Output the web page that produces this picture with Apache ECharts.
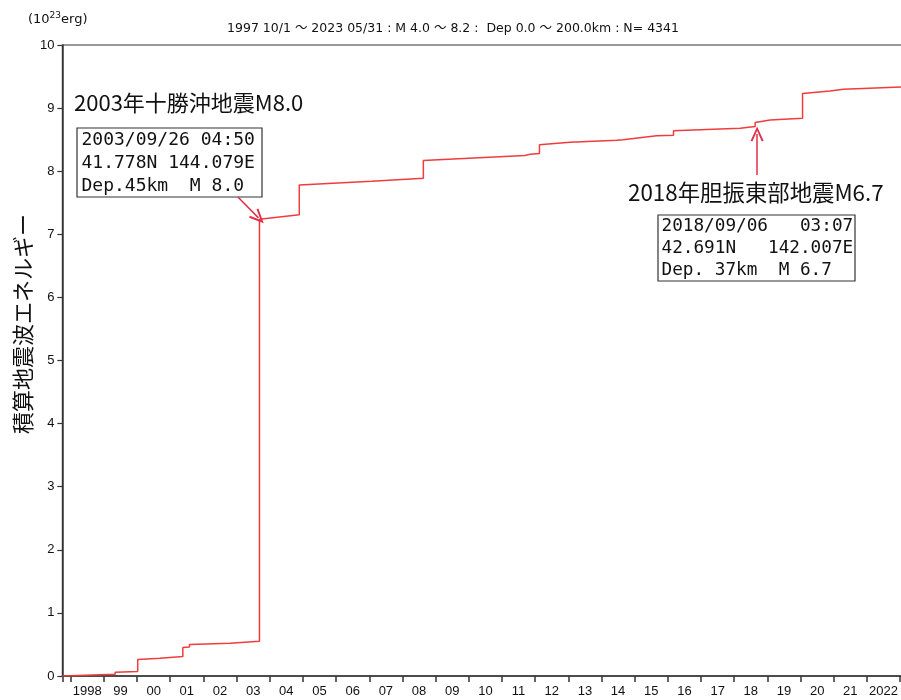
<!DOCTYPE html>
<html>
<head>
<meta charset="utf-8">
<script src="https://cdn.jsdelivr.net/npm/echarts@6/dist/echarts.min.js"></script>
<style>
html,body{margin:0;padding:0;background:#fff;}
#chart{width:901px;height:700px;}
</style>
</head>
<body>
<div id="chart"></div>
<script>
// ---- data (decimal year, cumulative energy in 10^23 erg) ----
const times = [1997.75, 1998.88, 1999.34, 1999.34, 2000.02, 2000.02, 2000.69, 2001.38, 2001.38, 2001.58, 2001.58, 2002.80, 2003.69, 2003.69, 2004.89, 2004.89, 2007.07, 2008.63, 2008.63, 2009.38, 2011.69, 2011.85, 2012.13, 2012.13, 2013.05, 2014.46, 2014.65, 2014.65, 2015.66, 2016.17, 2016.17, 2018.18, 2018.63, 2018.63, 2019.08, 2020.06, 2020.06, 2020.89, 2021.29, 2023.41];
const energy = [0.00, 0.02, 0.027, 0.06, 0.07, 0.26, 0.28, 0.31, 0.45, 0.46, 0.50, 0.52, 0.55, 7.24, 7.31, 7.78, 7.84, 7.89, 8.17, 8.19, 8.25, 8.27, 8.28, 8.42, 8.46, 8.49, 8.50, 8.53, 8.56, 8.57, 8.64, 8.68, 8.71, 8.77, 8.81, 8.84, 9.23, 9.27, 9.30, 9.34];
const yearTicks = [1998, 1999, 2000, 2001, 2002, 2003, 2004, 2005, 2006, 2007, 2008, 2009, 2010, 2011, 2012, 2013, 2014, 2015, 2016, 2017, 2018, 2019, 2020, 2021, 2022, 2023];
const xLabels = ['1998','99','00','01','02','03','04','05','06','07','08','09','10','11','12','13','14','15','16','17','18','19','20','21','2022'];
const xMin = 1997.75, xMax = 2023.41;
// arrows: [fromYear, fromEnergy, toYear, toEnergy]
const arrow1 = [2003.04, 7.59, 2003.66, 7.26];
const arrow2 = [2018.69, 7.94, 2018.69, 8.59];
const titleText = '1997 10/1 ～ 2023 05/31 : M 4.0 ～ 8.2 :  Dep 0.0 ～ 200.0km : N= 4341';
const yName = '積算地震波エネルギー';
const ev1Title = '2003年十勝沖地震M8.0';
const ev1Box = ['2003/09/26 04:50', '41.778N 144.079E', 'Dep.45km  M 8.0'];
const ev2Title = '2018年胆振東部地震M6.7';
const ev2Box = ['2018/09/06   03:07', '42.691N   142.007E', 'Dep. 37km  M 6.7'];

const seriesData = times.map((t, i) => [t, energy[i]]);
const labelPos = xLabels.map((_, i) => yearTicks[i] + 0.5);
const chevron = 'path://M5,0 L10,11 L8.6,11.6 L5,3.4 L1.4,11.6 L0,11 Z';
const RED = '#f03c3c';
const ARROW = '#e0304a';
const jpFont = '"Noto Sans CJK JP", sans-serif';
const monoFont = '"DejaVu Sans Mono", monospace';

const chart = echarts.init(document.getElementById('chart'), null, {renderer: 'canvas'});
chart.setOption({
  animation: false,
  backgroundColor: '#fff',
  grid: {left: 62.4, width: 851.3, top: 45, bottom: 24, show: true, borderColor: '#333', borderWidth: 1.2,
         containLabel: false, outerBoundsMode: 'none'},
  xAxis: {
    type: 'value', min: xMin, max: xMax,
    axisLine: {show: true, lineStyle: {color: '#333', width: 1.5}},
    axisTick: {show: true, customValues: [xMin].concat(yearTicks), length: 6, lineStyle: {color: '#333', width: 1.5}},
    axisLabel: {
      customValues: labelPos, margin: 9, fontSize: 13, color: '#111',
      fontFamily: '"Liberation Sans", Arial, sans-serif',
      formatter: v => xLabels[Math.round(v - 1998.5)] || ''
    },
    splitLine: {show: false}
  },
  yAxis: {
    type: 'value', min: 0, max: 10, interval: 1,
    axisLine: {show: true, lineStyle: {color: '#333', width: 1.5}},
    axisTick: {show: true, length: 5, lineStyle: {color: '#333', width: 1.2}},
    axisLabel: {margin: 8, fontSize: 13, color: '#111', fontFamily: '"Liberation Sans", Arial, sans-serif'},
    splitLine: {show: false}
  },
  series: [{
    type: 'line',
    data: seriesData,
    showSymbol: false,
    lineStyle: {color: RED, width: 1.5},
    markLine: {
      silent: true,
      symbol: ['none', chevron],
      symbolSize: [13, 15],
      label: {show: false},
      lineStyle: {color: ARROW, width: 1.5, type: 'solid'},
      itemStyle: {color: ARROW},
      data: [
        [{coord: [arrow1[0], arrow1[1]]}, {coord: [arrow1[2], arrow1[3]]}],
        [{coord: [arrow2[0], arrow2[1]]}, {coord: [arrow2[2], arrow2[3]]}]
      ]
    }
  }],
  graphic: [
    {type: 'text', x: 28, y: 11, style: {
      text: '{b|(10}{s|23}{b|erg)}',
      rich: {
        b: {fontSize: 13, fontFamily: '"DejaVu Sans", sans-serif', fill: '#111', lineHeight: 15, verticalAlign: 'bottom'},
        s: {fontSize: 9, fontFamily: '"DejaVu Sans", sans-serif', fill: '#111', lineHeight: 15, verticalAlign: 'top'}
      },
      verticalAlign: 'top'
    }},
    {type: 'text', x: 453, y: 29, style: {text: titleText, font: '12.5px "DejaVu Sans", "Noto Sans CJK JP", sans-serif', fill: '#111', align: 'center', verticalAlign: 'middle'}},
    {type: 'text', x: 23, y: 324, rotation: Math.PI / 2, style: {text: yName, font: '22px ' + jpFont, fill: '#111', align: 'center', verticalAlign: 'middle'}},
    {type: 'text', x: 74, y: 103, style: {text: ev1Title, font: '22px ' + jpFont, fill: '#111', verticalAlign: 'middle'}},
    {type: 'rect', shape: {x: 77, y: 128, width: 185, height: 69}, style: {fill: '#fff', stroke: '#333', lineWidth: 1.2}},
    {type: 'text', x: 81.5, y: 128.5, style: {text: ev1Box.join('\n'), font: '18px ' + monoFont, lineHeight: 23, fill: '#111', verticalAlign: 'top'}},
    {type: 'text', x: 628, y: 192, style: {text: ev2Title, font: '22.4px ' + jpFont, fill: '#111', verticalAlign: 'middle'}},
    {type: 'rect', shape: {x: 658, y: 215, width: 197, height: 66}, style: {fill: '#fff', stroke: '#333', lineWidth: 1.2}},
    {type: 'text', x: 661.5, y: 215.8, style: {text: ev2Box.join('\n'), font: '17.7px ' + monoFont, lineHeight: 21.7, fill: '#111', verticalAlign: 'top'}}
  ]
});
</script>
</body>
</html>
